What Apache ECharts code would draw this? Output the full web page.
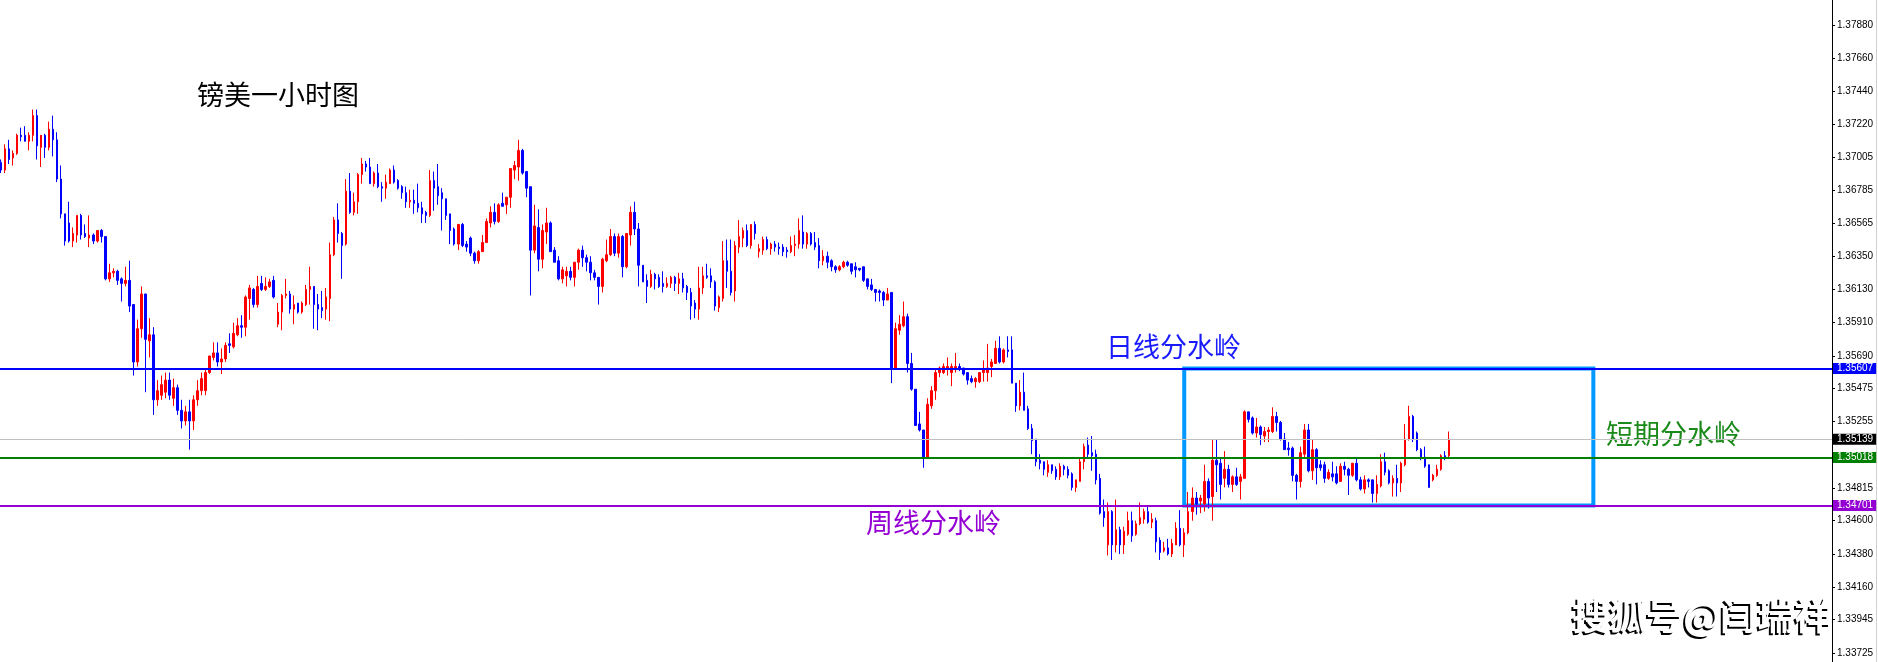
<!DOCTYPE html>
<html><head><meta charset="utf-8">
<script src="https://cdn.jsdelivr.net/npm/echarts@6/dist/echarts.min.js"></script>
<style>html,body{margin:0;padding:0;background:#fff;}#c{width:1878px;height:662px;}</style>
</head><body><div id="c"></div>
<script>
// GBP/USD 1-hour candles (MT4 style)
const opens = [
1.3697,1.3692,1.3706,1.3700,1.3703,1.3715,1.3715,1.3711,1.3715,1.3728,
1.3707,1.3715,1.3707,1.3719,1.3712,1.3686,1.3663,1.3657,1.3645,1.3649,
1.3662,1.3650,1.3647,1.3649,1.3645,1.3652,1.3648,1.3620,1.3624,1.3625,
1.3620,1.3617,1.3619,1.3603,1.3565,1.3587,1.3610,1.3579,1.3583,1.3540,
1.3543,1.3545,1.3553,1.3541,1.3548,1.3533,1.3526,1.3532,1.3526,1.3540,
1.3546,1.3546,1.3558,1.3568,1.3571,1.3565,1.3567,1.3577,1.3575,1.3583,
1.3589,1.3588,1.3607,1.3613,1.3603,1.3617,1.3613,1.3615,1.3619,1.3590,
1.3598,1.3609,1.3610,1.3600,1.3604,1.3598,1.3603,1.3613,1.3615,1.3603,
1.3601,1.3600,1.3607,1.3636,1.3659,1.3650,1.3643,1.3678,1.3664,1.3671,
1.3689,1.3696,1.3694,1.3683,1.3690,1.3681,1.3680,1.3683,1.3692,1.3685,
1.3681,1.3677,1.3671,1.3672,1.3670,1.3667,1.3664,1.3662,1.3685,1.3681,
1.3677,1.3673,1.3663,1.3653,1.3643,1.3656,1.3643,1.3647,1.3637,1.3632,
1.3638,1.3644,1.3657,1.3664,1.3658,1.3670,1.3669,1.3674,1.3692,1.3694,
1.3705,1.3691,1.3681,1.3639,1.3654,1.3633,1.3651,1.3657,1.3639,1.3632,
1.3620,1.3622,1.3625,1.3621,1.3631,1.3639,1.3634,1.3631,1.3624,1.3621,
1.3615,1.3632,1.3636,1.3648,1.3637,1.3648,1.3628,1.3649,1.3664,1.3653,
1.3629,1.3619,1.3615,1.3623,1.3621,1.3617,1.3615,1.3617,1.3621,1.3617,
1.3620,1.3615,1.3611,1.3604,1.3600,1.3614,1.3622,1.3622,1.3618,1.3601,
1.3607,1.3632,1.3625,1.3612,1.3641,1.3647,1.3652,1.3642,1.3656,1.3638,
1.3639,1.3646,1.3640,1.3643,1.3641,1.3641,1.3639,1.3638,1.3642,1.3643,
1.3651,1.3643,1.3650,1.3644,1.3642,1.3632,1.3635,1.3632,1.3628,1.3626,
1.3628,1.3631,1.3630,1.3628,1.3627,1.3628,1.3620,1.3616,1.3613,1.3612,
1.3611,1.3606,1.3611,1.3561,1.3586,1.3589,1.3595,1.3564,1.3547,1.3524,
1.3520,1.3502,1.3536,1.3546,1.3558,1.3558,1.3561,1.3558,1.3560,1.3562,
1.3561,1.3558,1.3554,1.3552,1.3552,1.3558,1.3558,1.3562,1.3564,1.3574,
1.3565,1.3573,1.3573,1.3551,1.3536,1.3545,1.3534,1.3521,1.3514,1.3500,
1.3499,1.3492,1.3497,1.3494,1.3489,1.3496,1.3494,1.3491,1.3482,1.3486,
1.3499,1.3510,1.3505,1.3504,1.3488,1.3466,1.3444,1.3466,1.3444,1.3454,
1.3444,1.3451,1.3460,1.3451,1.3458,1.3461,1.3466,1.3459,1.3460,1.3447,
1.3440,1.3442,1.3438,1.3444,1.3455,1.3444,1.3452,1.3466,1.3475,1.3473,
1.3471,1.3486,1.3476,1.3500,1.3498,1.3488,1.3494,1.3484,1.3489,1.3486,
1.3488,1.3532,1.3528,1.3518,1.3522,1.3516,1.3519,1.3519,1.3529,1.3525,
1.3514,1.3508,1.3508,1.3490,1.3486,1.3504,1.3520,1.3493,1.3507,1.3497,
1.3497,1.3488,1.3491,1.3491,1.3486,1.3496,1.3494,1.3490,1.3498,1.3487,
1.3481,1.3487,1.3487,1.3478,1.3483,1.3499,1.3493,1.3485,1.3488,1.3485,
1.3497,1.3514,1.3529,1.3518,1.3507,1.3502,1.3497,1.3487,1.3490,1.3494,
1.3503,1.3503];
const closes = [
1.3692,1.3706,1.3699,1.3703,1.3715,1.3714,1.3711,1.3715,1.3728,1.3708,
1.3715,1.3707,1.3719,1.3712,1.3686,1.3663,1.3645,1.3645,1.3650,1.3662,
1.3649,1.3648,1.3649,1.3645,1.3652,1.3648,1.3620,1.3624,1.3625,1.3619,
1.3617,1.3619,1.3602,1.3565,1.3587,1.3610,1.3580,1.3583,1.3540,1.3546,
1.3550,1.3553,1.3543,1.3548,1.3533,1.3526,1.3532,1.3526,1.3540,1.3546,
1.3554,1.3558,1.3569,1.3571,1.3565,1.3567,1.3576,1.3576,1.3584,1.3589,
1.3588,1.3608,1.3614,1.3603,1.3615,1.3613,1.3615,1.3618,1.3608,1.3598,
1.3609,1.3610,1.3600,1.3603,1.3598,1.3604,1.3613,1.3615,1.3603,1.3600,
1.3599,1.3608,1.3636,1.3659,1.3650,1.3642,1.3678,1.3664,1.3671,1.3689,
1.3696,1.3694,1.3683,1.3690,1.3681,1.3680,1.3684,1.3692,1.3684,1.3680,
1.3677,1.3671,1.3672,1.3670,1.3667,1.3663,1.3662,1.3685,1.3680,1.3675,
1.3673,1.3662,1.3652,1.3643,1.3656,1.3642,1.3641,1.3637,1.3632,1.3638,
1.3644,1.3658,1.3664,1.3658,1.3669,1.3668,1.3674,1.3693,1.3695,1.3705,
1.3690,1.3680,1.3639,1.3655,1.3633,1.3652,1.3657,1.3638,1.3631,1.3620,
1.3626,1.3625,1.3621,1.3631,1.3639,1.3634,1.3631,1.3624,1.3621,1.3615,
1.3633,1.3636,1.3648,1.3637,1.3648,1.3628,1.3650,1.3664,1.3653,1.3629,
1.3618,1.3615,1.3623,1.3620,1.3615,1.3615,1.3617,1.3621,1.3617,1.3620,
1.3614,1.3611,1.3602,1.3600,1.3614,1.3622,1.3621,1.3618,1.3602,1.3608,
1.3632,1.3625,1.3611,1.3642,1.3648,1.3652,1.3642,1.3656,1.3650,1.3640,
1.3646,1.3640,1.3643,1.3641,1.3640,1.3638,1.3638,1.3642,1.3643,1.3652,
1.3643,1.3650,1.3643,1.3641,1.3632,1.3635,1.3631,1.3628,1.3626,1.3628,
1.3631,1.3629,1.3625,1.3626,1.3626,1.3619,1.3615,1.3613,1.3611,1.3611,
1.3606,1.3610,1.3561,1.3587,1.3590,1.3595,1.3564,1.3547,1.3523,1.3520,
1.3502,1.3537,1.3546,1.3558,1.3561,1.3562,1.3562,1.3562,1.3562,1.3560,
1.3557,1.3553,1.3552,1.3554,1.3558,1.3560,1.3561,1.3565,1.3574,1.3565,
1.3573,1.3572,1.3551,1.3536,1.3545,1.3533,1.3521,1.3513,1.3499,1.3498,
1.3494,1.3497,1.3493,1.3489,1.3496,1.3494,1.3490,1.3482,1.3487,1.3499,
1.3509,1.3504,1.3503,1.3487,1.3465,1.3462,1.3466,1.3444,1.3454,1.3444,
1.3453,1.3460,1.3450,1.3458,1.3462,1.3466,1.3459,1.3461,1.3446,1.3439,
1.3442,1.3438,1.3445,1.3455,1.3444,1.3452,1.3466,1.3475,1.3471,1.3475,
1.3486,1.3475,1.3500,1.3497,1.3484,1.3494,1.3484,1.3489,1.3484,1.3489,
1.3532,1.3527,1.3518,1.3522,1.3517,1.3519,1.3520,1.3529,1.3525,1.3514,
1.3507,1.3507,1.3490,1.3486,1.3505,1.3520,1.3493,1.3507,1.3495,1.3495,
1.3488,1.3492,1.3489,1.3485,1.3496,1.3494,1.3490,1.3498,1.3487,1.3481,
1.3487,1.3486,1.3478,1.3484,1.3499,1.3492,1.3485,1.3488,1.3485,1.3498,
1.3514,1.3529,1.3514,1.3507,1.3501,1.3496,1.3482,1.3490,1.3494,1.3503,
1.3502,1.35139];
const lows = [
1.3690,1.3690,1.3696,1.3695,1.3702,1.3711,1.3711,1.3705,1.3711,1.3699,
1.3694,1.3700,1.3705,1.3701,1.3684,1.3660,1.3642,1.3644,1.3641,1.3644,
1.3646,1.3647,1.3641,1.3643,1.3644,1.3644,1.3619,1.3618,1.3621,1.3616,
1.3605,1.3615,1.3598,1.3556,1.3562,1.3581,1.3545,1.3568,1.3530,1.3536,
1.3540,1.3541,1.3540,1.3536,1.3530,1.3521,1.3523,1.3507,1.3520,1.3536,
1.3543,1.3543,1.3557,1.3566,1.3562,1.3557,1.3565,1.3571,1.3574,1.3582,
1.3581,1.3582,1.3593,1.3601,1.3601,1.3612,1.3612,1.3614,1.3607,1.3588,
1.3586,1.3607,1.3597,1.3590,1.3597,1.3597,1.3602,1.3603,1.3587,1.3586,
1.3594,1.3593,1.3592,1.3635,1.3644,1.3620,1.3642,1.3663,1.3662,1.3663,
1.3683,1.3691,1.3683,1.3681,1.3680,1.3671,1.3673,1.3683,1.3683,1.3679,
1.3673,1.3667,1.3667,1.3663,1.3664,1.3657,1.3657,1.3661,1.3665,1.3669,
1.3652,1.3659,1.3643,1.3642,1.3639,1.3641,1.3638,1.3635,1.3630,1.3630,
1.3638,1.3644,1.3654,1.3656,1.3657,1.3668,1.3663,1.3667,1.3686,1.3685,
1.3689,1.3674,1.3609,1.3637,1.3625,1.3627,1.3643,1.3638,1.3631,1.3619,
1.3617,1.3615,1.3619,1.3615,1.3626,1.3628,1.3625,1.3619,1.3619,1.3603,
1.3611,1.3631,1.3635,1.3635,1.3634,1.3621,1.3627,1.3642,1.3649,1.3615,
1.3618,1.3604,1.3614,1.3613,1.3614,1.3611,1.3614,1.3614,1.3612,1.3610,
1.3611,1.3606,1.3593,1.3594,1.3593,1.3610,1.3620,1.3614,1.3599,1.3598,
1.3605,1.3614,1.3609,1.3605,1.3637,1.3641,1.3641,1.3640,1.3646,1.3634,
1.3636,1.3639,1.3636,1.3638,1.3636,1.3635,1.3634,1.3637,1.3635,1.3640,
1.3640,1.3640,1.3642,1.3639,1.3627,1.3629,1.3627,1.3625,1.3624,1.3625,
1.3627,1.3628,1.3623,1.3621,1.3625,1.3618,1.3613,1.3612,1.3605,1.3605,
1.3602,1.3606,1.3551,1.3560,1.3583,1.3588,1.3558,1.3546,1.3523,1.3519,
1.3495,1.3502,1.3534,1.3540,1.3555,1.3557,1.3556,1.3549,1.3558,1.3559,
1.3556,1.3550,1.3551,1.3548,1.3551,1.3552,1.3552,1.3555,1.3564,1.3564,
1.3564,1.3568,1.3551,1.3532,1.3533,1.3533,1.3520,1.3504,1.3496,1.3494,
1.3490,1.3489,1.3491,1.3487,1.3487,1.3490,1.3488,1.3480,1.3479,1.3486,
1.3494,1.3501,1.3493,1.3484,1.3464,1.3456,1.3437,1.3434,1.3439,1.3438,
1.3438,1.3450,1.3446,1.3450,1.3457,1.3458,1.3458,1.3455,1.3439,1.3434,
1.3439,1.3437,1.3436,1.3444,1.3443,1.3436,1.3451,1.3460,1.3464,1.3465,
1.3466,1.3468,1.3460,1.3479,1.3474,1.3482,1.3482,1.3479,1.3483,1.3474,
1.3488,1.3525,1.3517,1.3515,1.3510,1.3512,1.3512,1.3518,1.3519,1.3513,
1.3507,1.3503,1.3486,1.3474,1.3482,1.3501,1.3492,1.3487,1.3484,1.3493,
1.3485,1.3487,1.3486,1.3484,1.3486,1.3490,1.3477,1.3489,1.3486,1.3480,
1.3478,1.3482,1.3472,1.3472,1.3482,1.3490,1.3484,1.3476,1.3476,1.3479,
1.3496,1.3513,1.3512,1.3506,1.3500,1.3495,1.3482,1.3486,1.3489,1.3493,
1.3500,1.3502];
const highs = [
1.3699,1.3709,1.3712,1.3705,1.3716,1.3720,1.3721,1.3717,1.3732,1.3732,
1.3715,1.3716,1.3724,1.3728,1.3717,1.3695,1.3663,1.3671,1.3654,1.3662,
1.3663,1.3656,1.3662,1.3650,1.3652,1.3653,1.3648,1.3630,1.3627,1.3626,
1.3621,1.3628,1.3632,1.3603,1.3593,1.3615,1.3610,1.3594,1.3588,1.3553,
1.3556,1.3558,1.3558,1.3554,1.3550,1.3540,1.3536,1.3540,1.3543,1.3553,
1.3558,1.3560,1.3569,1.3578,1.3578,1.3574,1.3578,1.3584,1.3591,1.3594,
1.3596,1.3609,1.3616,1.3614,1.3622,1.3622,1.3621,1.3620,1.3622,1.3604,
1.3610,1.3620,1.3612,1.3609,1.3604,1.3605,1.3616,1.3628,1.3615,1.3610,
1.3612,1.3614,1.3644,1.3661,1.3670,1.3651,1.3686,1.3690,1.3677,1.3690,
1.3700,1.3698,1.3700,1.3691,1.3696,1.3684,1.3689,1.3693,1.3695,1.3686,
1.3682,1.3681,1.3679,1.3679,1.3683,1.3671,1.3665,1.3692,1.3691,1.3696,
1.3680,1.3673,1.3663,1.3654,1.3656,1.3657,1.3645,1.3648,1.3638,1.3639,
1.3649,1.3660,1.3668,1.3670,1.3670,1.3677,1.3674,1.3693,1.3698,1.3712,
1.3706,1.3691,1.3681,1.3669,1.3666,1.3656,1.3667,1.3658,1.3641,1.3635,
1.3628,1.3628,1.3628,1.3631,1.3640,1.3642,1.3636,1.3635,1.3626,1.3621,
1.3634,1.3646,1.3653,1.3650,1.3650,1.3649,1.3650,1.3668,1.3671,1.3657,
1.3629,1.3623,1.3626,1.3624,1.3623,1.3625,1.3621,1.3622,1.3622,1.3624,
1.3624,1.3616,1.3614,1.3606,1.3628,1.3628,1.3630,1.3627,1.3619,1.3609,
1.3645,1.3646,1.3646,1.3645,1.3659,1.3654,1.3656,1.3656,1.3658,1.3643,
1.3648,1.3648,1.3644,1.3645,1.3644,1.3643,1.3641,1.3648,1.3649,1.3660,
1.3662,1.3651,1.3651,1.3651,1.3647,1.3639,1.3638,1.3633,1.3629,1.3629,
1.3632,1.3632,1.3630,1.3631,1.3627,1.3628,1.3620,1.3620,1.3613,1.3613,
1.3612,1.3614,1.3611,1.3591,1.3596,1.3605,1.3597,1.3571,1.3547,1.3532,
1.3520,1.3541,1.3549,1.3561,1.3562,1.3564,1.3568,1.3564,1.3571,1.3564,
1.3561,1.3558,1.3556,1.3555,1.3558,1.3566,1.3577,1.3567,1.3579,1.3582,
1.3574,1.3582,1.3582,1.3551,1.3553,1.3558,1.3536,1.3524,1.3514,1.3504,
1.3499,1.3500,1.3497,1.3496,1.3498,1.3497,1.3496,1.3492,1.3487,1.3502,
1.3511,1.3515,1.3516,1.3507,1.3491,1.3474,1.3472,1.3467,1.3474,1.3456,
1.3456,1.3466,1.3466,1.3460,1.3472,1.3468,1.3470,1.3465,1.3462,1.3449,
1.3446,1.3448,1.3448,1.3459,1.3467,1.3455,1.3479,1.3482,1.3479,1.3477,
1.3497,1.3488,1.3514,1.3514,1.3501,1.3506,1.3497,1.3490,1.3495,1.3491,
1.3533,1.3532,1.3529,1.3528,1.3523,1.3522,1.3522,1.3535,1.3532,1.3526,
1.3518,1.3512,1.3509,1.3491,1.3509,1.3524,1.3524,1.3514,1.3508,1.3500,
1.3499,1.3494,1.3499,1.3496,1.3498,1.3499,1.3495,1.3498,1.3501,1.3489,
1.3490,1.3488,1.3487,1.3490,1.3504,1.3505,1.3494,1.3490,1.3497,1.3499,
1.3524,1.3536,1.3530,1.3519,1.3508,1.3509,1.3497,1.3491,1.3497,1.3504,
1.3506,1.3519];

// empty hourly slots to the right of the last candle (MT4 chart shift)
const slotCount = 457;
const categories = Array.from({length: slotCount}, (_, i) => String(i));

const priceTicks = [1.37880,1.37660,1.37440,1.37220,1.37005,1.36785,1.36565,1.36350,1.36130,1.35910,
                    1.35690,1.35475,1.35255,1.34815,1.34600,1.34380,1.34160,1.33945,1.33725];
const axisMin = 1.33665, axisMax = 1.38045;

const dailyLevel = 1.35607;   // 日线分水岭
const shortLevel = 1.35018;   // 短期分水岭
const weeklyLevel = 1.34701;  // 周线分水岭
const bidLevel = 1.35139;
const boxStart = '295', boxEnd = '397';

const candles = opens.map((o, i) => [o, closes[i], lows[i], highs[i]]);

const tagLabel = (bg) => ({
  show: true, position: 'end', distance: 1,
  formatter: p => Number(p.value).toFixed(5),
  backgroundColor: bg, color: '#fff', padding: [1, 3, 0, 4],
  fontFamily: 'Liberation Sans', fontSize: 10, lineHeight: 10
});

const chart = echarts.init(document.getElementById('c'), null, {renderer: 'canvas'});
chart.setOption({
  animation: false,
  backgroundColor: '#ffffff',
  grid: {left: -1, right: 46, top: 0, bottom: 0, containLabel: false, outerBoundsMode: 'none'},
  xAxis: {
    type: 'category', data: categories, boundaryGap: true,
    axisLine: {show: false}, axisTick: {show: false}, axisLabel: {show: false}, splitLine: {show: false}
  },
  yAxis: {
    type: 'value', position: 'right', min: axisMin, max: axisMax, scale: true,
    axisLine: {show: true, lineStyle: {color: '#000', width: 1}},
    axisTick: {show: true, length: 3, lineStyle: {color: '#000'}, customValues: priceTicks},
    axisLabel: {show: true, customValues: priceTicks, margin: 5, color: '#000',
      fontFamily: 'Liberation Sans', fontSize: 10, formatter: v => v.toFixed(5)},
    splitLine: {show: false}
  },
  series: [{
    type: 'candlestick',
    data: candles,
    barWidth: 2,
    itemStyle: {color: '#ff0000', color0: '#0000ff', borderColor: '#ff0000', borderColor0: '#0000ff', borderWidth: 1},
    markLine: {
      silent: true, symbol: ['none', 'none'], animation: false, precision: 5,
      data: [
        {yAxis: bidLevel, lineStyle: {color: '#c0c0c0', width: 1, type: 'solid'}, label: tagLabel('#000000')},
        {yAxis: dailyLevel, lineStyle: {color: '#0000ff', width: 2, type: 'solid'}, label: tagLabel('#0000ff')},
        {yAxis: shortLevel, lineStyle: {color: '#008000', width: 2, type: 'solid'}, label: tagLabel('#008000')},
        {yAxis: weeklyLevel, lineStyle: {color: '#9400d3', width: 2, type: 'solid'}, label: tagLabel('#9400d3')}
      ]
    },
    markArea: {
      silent: true,
      itemStyle: {color: 'rgba(0,0,0,0)', borderColor: '#0099ff', borderWidth: 4},
      data: [[{xAxis: boxStart, yAxis: dailyLevel}, {xAxis: boxEnd, yAxis: weeklyLevel}]]
    }
  }],
  graphic: [
    {type: 'line', shape: {x1: 1876.5, y1: 0, x2: 1876.5, y2: 662}, style: {stroke: '#d0d0d0', lineWidth: 1}},
    {type: 'text', left: 197, top: 81, style: {text: '镑美一小时图', fill: '#000', font: '27px "Noto Sans CJK SC"'}},
    {type: 'text', left: 1106, top: 333, style: {text: '日线分水岭', fill: '#1a1aff', font: '27px "Noto Sans CJK SC"'}},
    {type: 'text', left: 866, top: 509, style: {text: '周线分水岭', fill: '#9400d3', font: '27px "Noto Sans CJK SC"'}},
    {type: 'text', left: 1606, top: 420, style: {text: '短期分水岭', fill: '#1a8a1a', font: '27px "Noto Sans CJK SC"'}},
    {type: 'text', left: 1570, top: 599, z: 100, style: {text: '搜狐号@闫瑞祥', fill: '#000000', font: 'bold 37px "Noto Sans CJK SC"'}},
    {type: 'text', left: 1572, top: 597, z: 101, style: {text: '搜狐号@闫瑞祥', fill: '#ffffff', font: 'bold 37px "Noto Sans CJK SC"'}}
  ]
});
</script></body></html>
